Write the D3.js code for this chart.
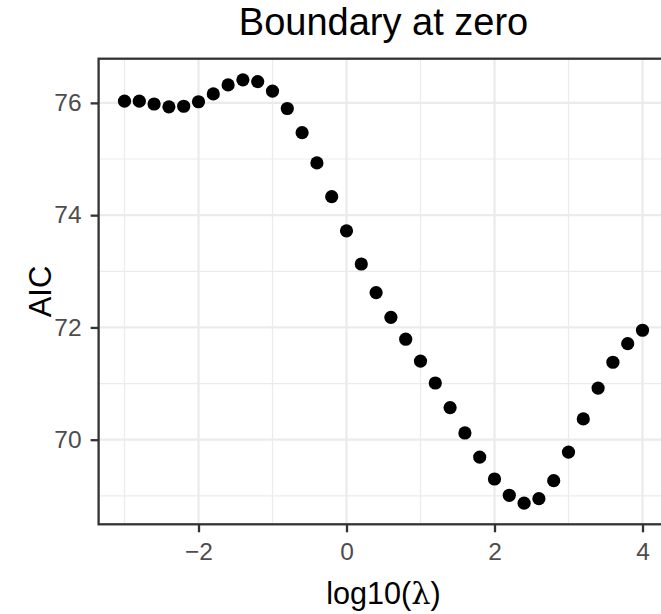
<!DOCTYPE html>
<html>
<head>
<meta charset="utf-8">
<script src="https://cdn.jsdelivr.net/npm/d3@7"></script>
<style>
  body { margin: 0; background: #fff; }
  svg { display: block; font-family: "Liberation Sans", Arial, Helvetica, sans-serif; }
</style>
</head>
<body>
<script>
// log10(lambda) grid and the AIC
const logLambda = [-3.0, -2.8, -2.6, -2.4, -2.2, -2.0, -1.8, -1.6, -1.4, -1.2,
  -1.0, -0.8, -0.6, -0.4, -0.2, 0.0, 0.2, 0.4, 0.6, 0.8,
  1.0, 1.2, 1.4, 1.6, 1.8, 2.0, 2.2, 2.4, 2.6, 2.8,
  3.0, 3.2, 3.4, 3.6, 3.8, 4.0];
const aic = [76.03, 76.03, 75.98, 75.93, 75.94, 76.02, 76.16, 76.32, 76.41, 76.38,
  76.21, 75.90, 75.47, 74.93, 74.33, 73.72, 73.13, 72.62, 72.18, 71.79,
  71.40, 71.01, 70.57, 70.12, 69.69, 69.30, 69.01, 68.87, 68.95, 69.27,
  69.78, 70.37, 70.92, 71.38, 71.71, 71.95];
const xTicks = [-2, 0, 2, 4];
const xMinor = [-3, -1, 1, 3];
const yTicks = [70, 72, 74, 76];
const yMinor = [69, 71, 73, 75];

const width = 661, height = 614;
const panel = {left: 98.6, top: 58.7, bottom: 524.3};
const pxPerUnit = 74.0;

// ggplot style 5% expansion
const xExt = d3.extent(logLambda), yExt = d3.extent(aic);
const xPad = (xExt[1] - xExt[0]) * 0.05, yPad = (yExt[1] - yExt[0]) * 0.05;
const xDom = [xExt[0] - xPad, xExt[1] + xPad];
const yDom = [yExt[0] - yPad, yExt[1] + yPad];
panel.right = panel.left + (xDom[1] - xDom[0]) * pxPerUnit;

const x = d3.scaleLinear().domain(xDom).range([panel.left, panel.right]);
const y = d3.scaleLinear().domain(yDom).range([panel.bottom, panel.top]);

const svg = d3.select("body").append("svg")
  .attr("width", width)
  .attr("height", height);

const grid = svg.append("g");
grid.selectAll(".xminor").data(xMinor).enter().append("line")
  .attr("x1", d => x(d)).attr("x2", d => x(d))
  .attr("y1", panel.top).attr("y2", panel.bottom)
  .attr("stroke", "#EBEBEB").attr("stroke-width", 1.2);
grid.selectAll(".yminor").data(yMinor).enter().append("line")
  .attr("y1", d => y(d)).attr("y2", d => y(d))
  .attr("x1", panel.left).attr("x2", panel.right)
  .attr("stroke", "#EBEBEB").attr("stroke-width", 1.2);
grid.selectAll(".xmajor").data(xTicks).enter().append("line")
  .attr("x1", d => x(d)).attr("x2", d => x(d))
  .attr("y1", panel.top).attr("y2", panel.bottom)
  .attr("stroke", "#EBEBEB").attr("stroke-width", 2.3);
grid.selectAll(".ymajor").data(yTicks).enter().append("line")
  .attr("y1", d => y(d)).attr("y2", d => y(d))
  .attr("x1", panel.left).attr("x2", panel.right)
  .attr("stroke", "#EBEBEB").attr("stroke-width", 2.3);

const pts = logLambda.map((d, i) => ({x: d, y: aic[i]}));
svg.append("g").selectAll("circle").data(pts).enter().append("circle")
  .attr("cx", d => x(d.x))
  .attr("cy", d => y(d.y))
  .attr("r", 6.6)
  .attr("fill", "#000");

svg.append("rect")
  .attr("x", panel.left).attr("y", panel.top)
  .attr("width", panel.right - panel.left)
  .attr("height", panel.bottom - panel.top)
  .attr("fill", "none")
  .attr("stroke", "#333333")
  .attr("stroke-width", 2.3);

const xAxis = svg.append("g")
  .attr("transform", `translate(0,${panel.bottom})`)
  .call(d3.axisBottom(x).tickValues(xTicks).tickSize(8).tickPadding(10.6));
const yAxis = svg.append("g")
  .attr("transform", `translate(${panel.left},0)`)
  .call(d3.axisLeft(y).tickValues(yTicks).tickSize(8).tickPadding(9));

[xAxis, yAxis].forEach(a => {
  a.select(".domain").remove();
  a.selectAll(".tick line").attr("stroke", "#333333").attr("stroke-width", 2.3);
  a.selectAll(".tick text")
    .attr("fill", "#4D4D4D")
    .style("font-size", "24.5px")
    .style("font-family", "'Liberation Sans', Arial, sans-serif");
});

const midX = (panel.left + panel.right) / 2;
const midY = (panel.top + panel.bottom) / 2;

svg.append("text")
  .attr("x", midX).attr("y", 35)
  .attr("text-anchor", "middle")
  .style("font-size", "38px")
  .text("Boundary at zero");

const xTitle = svg.append("text")
  .attr("x", midX).attr("y", 604)
  .attr("text-anchor", "middle")
  .style("font-size", "30.6px");
xTitle.append("tspan").text("log10(");
xTitle.append("tspan").style("font-family", "'DejaVu Serif', 'Liberation Serif', serif").text("λ");
xTitle.append("tspan").text(")");

svg.append("text")
  .attr("transform", `translate(50.5,${midY}) rotate(-90)`)
  .attr("text-anchor", "middle")
  .style("font-size", "31px")
  .text("AIC");
</script>
</body>
</html>
